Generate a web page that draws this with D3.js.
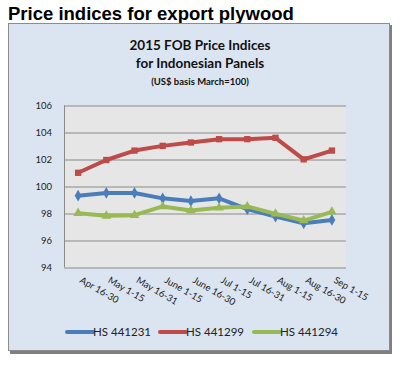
<!doctype html>
<html lang="en">
  <head>
    <meta charset="utf-8">
    <script src="https://cdn.jsdelivr.net/npm/d3@7"></script>
    <style>
      body {margin:0; background:#fff}
      svg {display:block}
      .calib {font-family:Lato, 'Open Sans', sans-serif}
    </style>
    <title>Price indices for export plywood</title>
  </head>
  <body>
    <script>
      // values
      let periods = ["Apr 16-30","May 1-15","May 16-31","June 1-15","June 16-30","Jul 1-15","Jul 16-31","Aug 1-15","Aug 16-30","Sep 1-15"];
      let hs441231 = [99.3, 99.5, 99.5, 99.1, 98.9, 99.1, 98.3, 97.75, 97.25, 97.5];
      let hs441299 = [101.0, 101.95, 102.65, 103.0, 103.25, 103.5, 103.5, 103.6, 102.0, 102.65];
      let hs441294 = [98.0, 97.8, 97.85, 98.5, 98.2, 98.4, 98.5, 97.95, 97.45, 98.1];
      let seriesNames = ["HS 441231","HS 441299","HS 441294"];
      let yTicks = [94, 96, 98, 100, 102, 104, 106];

      let series = [
        {name:seriesNames[0], values:hs441231, color:"#4a7ebb", marker:"diamond"},
        {name:seriesNames[1], values:hs441299, color:"#be4b48", marker:"square"},
        {name:seriesNames[2], values:hs441294, color:"#98b954", marker:"triangle"}
      ];

      let W = 402, H = 365;
      let margin = {top:105.5, left:64, right:56, bottom:98};
      let w = W - margin.left - margin.right;
      let h = H - margin.top - margin.bottom;

      let svg = d3.select("body").append("svg")
        .attr("width", W)
        .attr("height", H);

      svg.append("text")
        .attr("x", 8)
        .attr("y", 20)
        .attr("font-family", "'Liberation Sans', Arial, sans-serif")
        .attr("font-weight", "bold")
        .attr("font-size", "18.5px")
        .attr("fill", "#000")
        .text("Price indices for export plywood");

      // panel with shadow
      svg.append("rect")
        .attr("x", 10).attr("y", 25).attr("width", 382).attr("height", 329)
        .attr("fill", "#7f7f7f");
      svg.append("rect")
        .attr("x", 8.5).attr("y", 23.5).attr("width", 381).attr("height", 327)
        .attr("fill", "#dbe5f1")
        .attr("stroke", "#8c8c8c");

      let titles = [["2015 FOB Price Indices", 50, 13.5], ["for Indonesian  Panels", 68, 13.5], ["(US$ basis March=100)", 85, 9.5]];
      svg.selectAll(".ctitle").data(titles).enter().append("text")
        .attr("class", "ctitle calib")
        .attr("x", 200)
        .attr("y", d => d[1])
        .attr("text-anchor", "middle")
        .attr("font-weight", "bold")
        .attr("font-size", d => d[2] + "px")
        .attr("fill", "#111")
        .text(d => d[0]);

      let canvas = svg.append("g")
        .attr("transform", "translate(" + margin.left + "," + margin.top + ")");

      let x = d3.scaleBand().domain(periods).range([0, w]);
      let y = d3.scaleLinear().domain([94, 106]).range([h, 0]);

      canvas.append("rect")
        .attr("width", w).attr("height", h)
        .attr("fill", "#e6e6e6");

      canvas.selectAll(".grid").data(yTicks).enter().append("line")
        .attr("x1", 0).attr("x2", w)
        .attr("y1", d => Math.round(y(d)) + 0.5)
        .attr("y2", d => Math.round(y(d)) + 0.5)
        .attr("stroke", "#8a8a8a")
        .attr("stroke-width", 1);

      canvas.append("line")
        .attr("x1", 0.5).attr("x2", 0.5).attr("y1", 0).attr("y2", h)
        .attr("stroke", "#8a8a8a");

      let yAxis = d3.axisLeft(y).tickValues(yTicks).tickSize(0).tickPadding(12);
      canvas.append("g")
        .attr("class", "calib")
        .call(yAxis)
        .call(g => g.select(".domain").remove())
        .selectAll("text")
        .attr("font-family", "Lato, 'Open Sans', sans-serif")
        .attr("font-size", "9.5px")
        .attr("fill", "#222");

      let xAxis = d3.axisBottom(x).tickSize(0).tickPadding(0);
      canvas.append("g")
        .attr("transform", "translate(0," + h + ")")
        .call(xAxis)
        .call(g => g.select(".domain").remove())
        .selectAll("text")
        .attr("font-family", "Lato, 'Open Sans', sans-serif")
        .attr("font-size", "9.5px")
        .attr("fill", "#222")
        .attr("text-anchor", "start")
        .attr("dy", "0")
        .attr("y", 0)
        .attr("transform", "translate(1,15) rotate(30)");

      let cx = d => x(d) + x.bandwidth() / 2;
      let line = d3.line()
        .x((d, i) => cx(periods[i]))
        .y(d => y(d));

      let symbols = {diamond:d3.symbolDiamond, square:d3.symbolSquare, triangle:d3.symbolTriangle};

      series.forEach(s => {
        canvas.append("path")
          .datum(s.values)
          .attr("fill", "none")
          .attr("stroke", s.color)
          .attr("stroke-width", 4)
          .attr("stroke-linejoin", "round")
          .attr("d", line);
        canvas.selectAll(null).data(s.values).enter().append("path")
          .attr("transform", (d, i) => "translate(" + cx(periods[i]) + "," + y(d) + ")")
          .attr("d", d3.symbol().type(symbols[s.marker]).size(40))
          .attr("fill", s.color);
      });

      // legend
      let legendX = [67, 160, 254];
      let legend = svg.selectAll(".leg").data(series).enter().append("g")
        .attr("transform", (d, i) => "translate(" + legendX[i] + ",332)");
      legend.append("line")
        .attr("x1", 0).attr("x2", 26).attr("y1", 0).attr("y2", 0)
        .attr("stroke", d => d.color)
        .attr("stroke-width", 4)
        .attr("stroke-linecap", "round");
      legend.append("text")
        .attr("class", "calib")
        .attr("x", 26)
        .attr("y", 4)
        .attr("font-size", "11.5px")
        .attr("fill", "#222")
        .text(d => d.name);
    </script>
  </body>
</html>
